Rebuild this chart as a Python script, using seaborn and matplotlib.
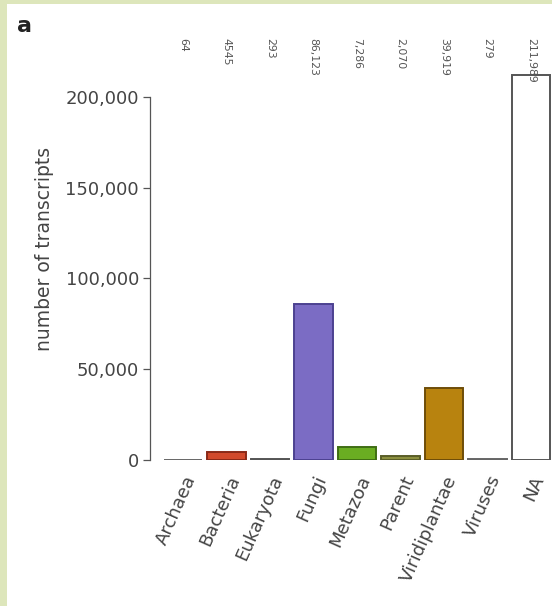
import matplotlib
matplotlib.use("Agg")
import matplotlib.pyplot as plt
import seaborn as sns
import pandas as pd
from matplotlib.patches import Rectangle

categories = ["Archaea", "Bacteria", "Eukaryota", "Fungi", "Metazoa",
              "Parent", "Viridiplantae", "Viruses", "NA"]
counts = [64, 4545, 293, 86123, 7286, 2070, 39919, 279, 211989]
count_labels = ["64", "4545", "293", "86,123", "7,286", "2,070", "39,919", "279", "211,989"]
face_colors = ["#c9c9c9", "#d24a2c", "#8f8f8f", "#7b6cc4", "#6aad22",
               "#8c9040", "#b8830f", "#b0b8b8", "#ffffff"]
edge_colors = ["#666666", "#8a2a18", "#555555", "#4c4190", "#3f6e14",
               "#5a5e28", "#6e4d08", "#666666", "#555555"]
yticks = [0, 50000, 100000, 150000, 200000]
ytick_labels = ["0", "50,000", "100,000", "150,000", "200,000"]

sns.set_style("white")
plt.rcParams['font.family'] = ['DejaVu Sans']

W, H = 552, 606
fig = plt.figure(figsize=(W / 100, H / 100), dpi=100, facecolor="#dde6bb")
fig.patches.append(Rectangle((7 / W, 0), 1 - 7 / W, 1 - 4 / H, transform=fig.transFigure,
                             facecolor="white", edgecolor="none", zorder=-5))

ax = fig.add_axes([150 / W, (H - 460) / H, 1 - 150 / W, 422 / H])
ax.set_zorder(2)
ax.set_facecolor("none")

df = pd.DataFrame({"category": categories, "count": counts})
sns.barplot(data=df, x="category", y="count", hue="category",
            palette=dict(zip(categories, face_colors)), legend=False,
            width=0.88, ax=ax, saturation=1)
for p, ec in zip(ax.patches, edge_colors):
    p.set_edgecolor(ec)
    p.set_linewidth(1.4)

ax.set_xlim(-0.76, 8.48)
ax.set_ylim(0, 232500)
ax.set_yticks(yticks)
ax.set_yticklabels(ytick_labels, fontsize=13, color="#444444")
ax.tick_params(axis="y", direction="out", length=5, width=0.9, color="#555555", pad=3, left=True)
ax.tick_params(axis="x", length=0, pad=9)
for s in ["top", "right", "bottom"]:
    ax.spines[s].set_visible(False)
ax.spines["left"].set_bounds(0, 200000)
ax.spines["left"].set_color("#555555")
ax.spines["left"].set_linewidth(0.9)

ax.set_xlabel("")
ax.set_ylabel("number of transcripts", fontsize=13.5, color="#444444", labelpad=8)
ax.set_xticks(range(len(categories)))
ax.set_xticklabels(categories, rotation=66, ha="right", rotation_mode="anchor",
                   fontsize=13, color="#444444")

for i, lab in enumerate(count_labels):
    ax.text(i, 232500, lab, rotation=270, ha="center", va="top", fontsize=7.8,
            color="#555555", clip_on=False)

fig.text(17 / W, 1 - 26 / H, "a", fontsize=16, fontweight="bold", color="#222222",
         va="center", ha="left")

fig.savefig("out.png", dpi=100, facecolor=fig.get_facecolor())
